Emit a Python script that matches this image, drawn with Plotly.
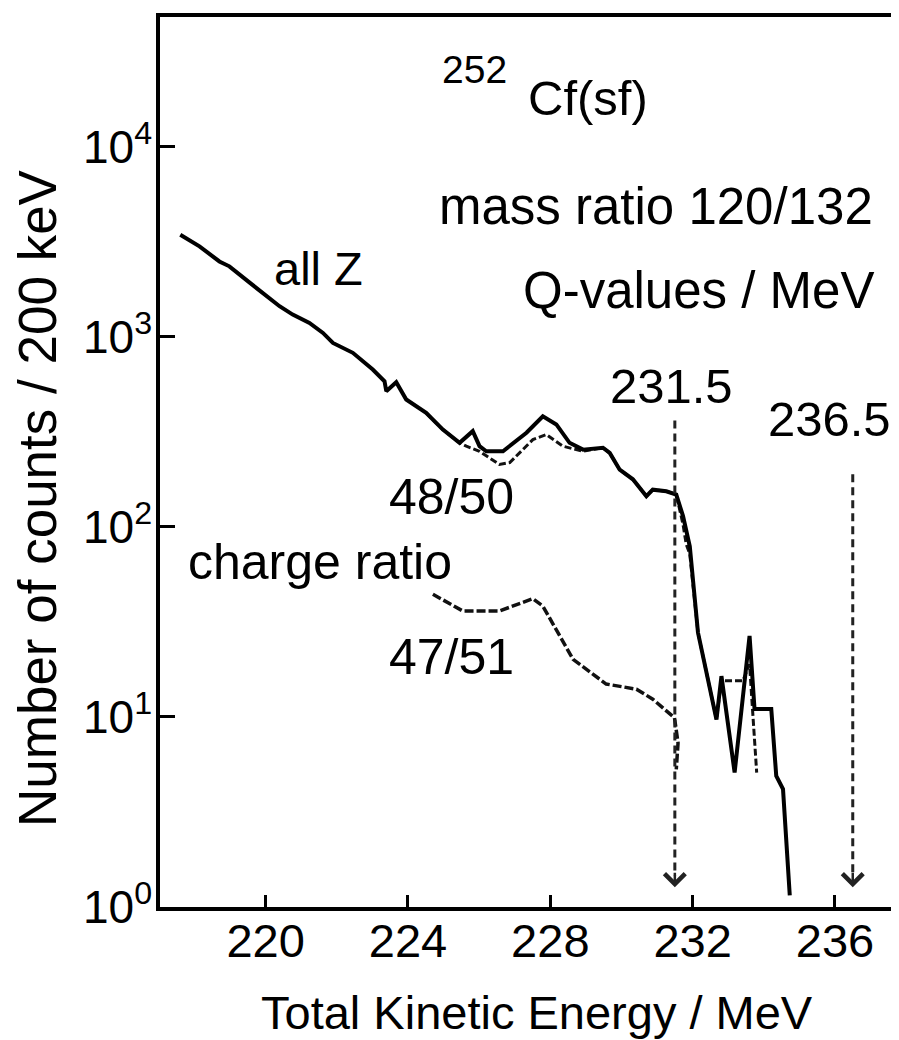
import math
import plotly.graph_objects as go

# ---------------- data ----------------
tke_allz = [217.60, 218.14, 218.70, 218.98, 219.55, 220.02, 220.39, 220.76, 221.23, 221.61,
            221.89, 222.45, 223.01, 223.34, 223.39, 223.67, 223.95, 224.51, 224.98, 225.45,
            225.82, 226.01, 226.20, 226.67, 227.33, 227.79, 228.17, 228.54, 228.92, 229.48,
            229.67, 229.95, 230.32, 230.70, 230.88, 231.26, 231.54, 231.73, 231.92, 232.15,
            232.67, 232.81, 233.18, 233.60, 233.74, 234.21, 234.35, 234.54, 234.73]
counts_allz = [3447, 2992, 2494, 2350, 1928, 1634, 1449, 1309, 1183, 1049,
               929, 824, 673, 584, 518, 577, 468, 398, 325, 277,
               319, 266, 250, 250, 313, 382, 346, 277, 255, 261,
               245, 200, 178, 145, 157, 154, 148, 114, 79, 27.8,
               9.7, 16.4, 5.1, 26.7, 11.0, 11.0, 4.9, 4.17, 1.15]

tke_4850 = [224.51, 224.98, 225.45, 225.64, 226.01, 226.57, 226.86, 227.51, 227.89, 228.35,
            228.92, 229.48, 229.67, 229.95, 230.32, 230.70, 230.88, 231.26, 231.54, 231.73,
            231.82, 231.92, 232.15, 232.67, 232.81, 233.41, 233.60, 233.80]
counts_4850 = [398, 325, 277, 266, 250, 213, 218, 288, 306, 266,
               250, 261, 245, 200, 178, 145, 157, 154, 148, 103,
               81, 72, 27.8, 9.7, 15.5, 15.5, 18.9, 5.1]

tke_4751 = [224.70, 225.54, 226.57, 227.51, 227.79, 228.26, 228.64, 229.57, 230.42, 230.88,
            231.49, 231.59, 231.54]
counts_4751 = [44.2, 36.1, 36.1, 41.9, 38.3, 26.7, 20.1, 14.9, 14.0, 12.4,
               9.9, 7.3, 5.3]

q_values = [231.5, 236.5]
q_labels = ["231.5", "236.5"]
q_arrow_top = [363, 189]      # counts where the dashed Q-value arrows start
q_arrow_tip = 1.27            # counts where the arrows end

x_ticks = [220, 224, 228, 232, 236]
y_ticks = [1, 10, 100, 1000, 10000]
y_ticktext = ["10<sup>0</sup>", "10<sup>1</sup>", "10<sup>2</sup>", "10<sup>3</sup>", "10<sup>4</sup>"]

# ---------------- layout helpers ----------------
OFF = 8                      # page body margin of the browser
W, H = 899 - OFF, 1040 - OFF
L, R, T, B = 160 - OFF, 0, 17 - OFF, 133
FONT = "Liberation Sans, Arial, sans-serif"


def xp(px):
    return (px - OFF - L) / (W - L - R)


def yp(py):
    return (H - B - (py - OFF)) / (H - T - B)


fig = go.Figure()

fig.add_trace(go.Scatter(x=tke_4850, y=counts_4850, mode="lines",
                         line=dict(color="#111", width=3, dash="7px,3px"),
                         showlegend=False, hoverinfo="skip"))
fig.add_trace(go.Scatter(x=tke_allz, y=counts_allz, mode="lines",
                         line=dict(color="black", width=4),
                         showlegend=False, hoverinfo="skip"))
fig.add_trace(go.Scatter(x=tke_4751, y=counts_4751, mode="lines",
                         line=dict(color="#111", width=3.5, dash="9px,3px"),
                         showlegend=False, hoverinfo="skip"))

for q, top in zip(q_values, q_arrow_top):
    fig.add_trace(go.Scatter(x=[q, q], y=[top, q_arrow_tip * 1.15], mode="lines",
                             line=dict(color="#222", width=3, dash="8px,5px"),
                             showlegend=False, hoverinfo="skip"))

annotations = []
for q in q_values:
    annotations.append(dict(x=q, y=math.log10(q_arrow_tip), xref="x", yref="y",
                            text="", showarrow=True, ax=0, ay=-16,
                            arrowhead=4, arrowsize=1.6, arrowwidth=2.5,
                            arrowcolor="#222"))


def label(text, cx, cy, size):
    annotations.append(dict(x=xp(cx), y=yp(cy), xref="paper", yref="paper",
                            text=text, showarrow=False, xanchor="center",
                            yanchor="middle", font=dict(family=FONT, size=size, color="black")))


label("252", 474, 70, 39)
label("Cf(sf)", 588, 98, 49)
label("mass ratio 120/132", 656, 207, 51)
label("Q-values / MeV", 698, 290, 51)
label("all Z", 318, 268, 47)
label(q_labels[0], 671, 386, 49)
label(q_labels[1], 829, 419, 49)
label("48/50", 451, 497, 50)
label("charge ratio", 320, 562, 50)
label("47/51", 451, 657, 50)

# axis titles
annotations.append(dict(x=xp(537), y=yp(1013), xref="paper", yref="paper",
                        text="Total Kinetic Energy / MeV", showarrow=False,
                        xanchor="center", yanchor="middle",
                        font=dict(family=FONT, size=47, color="black")))
annotations.append(dict(x=xp(38), y=yp(498), xref="paper", yref="paper",
                        text="Number of counts / 200 keV", showarrow=False,
                        xanchor="center", yanchor="middle", textangle=-90,
                        font=dict(family=FONT, size=53, color="black")))

fig.update_layout(
    width=W, height=H,
    margin=dict(l=L, r=R, t=T, b=B, pad=0),
    paper_bgcolor="white", plot_bgcolor="white",
    annotations=annotations,
    showlegend=False,
)

fig.update_xaxes(range=[217.03, 237.8], tickvals=x_ticks, ticktext=[str(v) for v in x_ticks],
                 ticks="inside", ticklen=12, tickwidth=3, tickcolor="black",
                 showline=True, linewidth=3.5, linecolor="black", mirror=True,
                 showgrid=False, zeroline=False, ticklabelstandoff=-10,
                 tickfont=dict(family=FONT, size=47, color="black"))
fig.update_yaxes(type="log", range=[0, 4.683], tickvals=y_ticks, ticktext=y_ticktext,
                 ticks="inside", ticklen=15, tickwidth=3, tickcolor="black",
                 showline=True, linewidth=3.5, linecolor="black", mirror=False,
                 showgrid=False, zeroline=False, ticklabelstandoff=-5,
                 tickfont=dict(family=FONT, size=46, color="black"))

fig.write_html("out.html")
